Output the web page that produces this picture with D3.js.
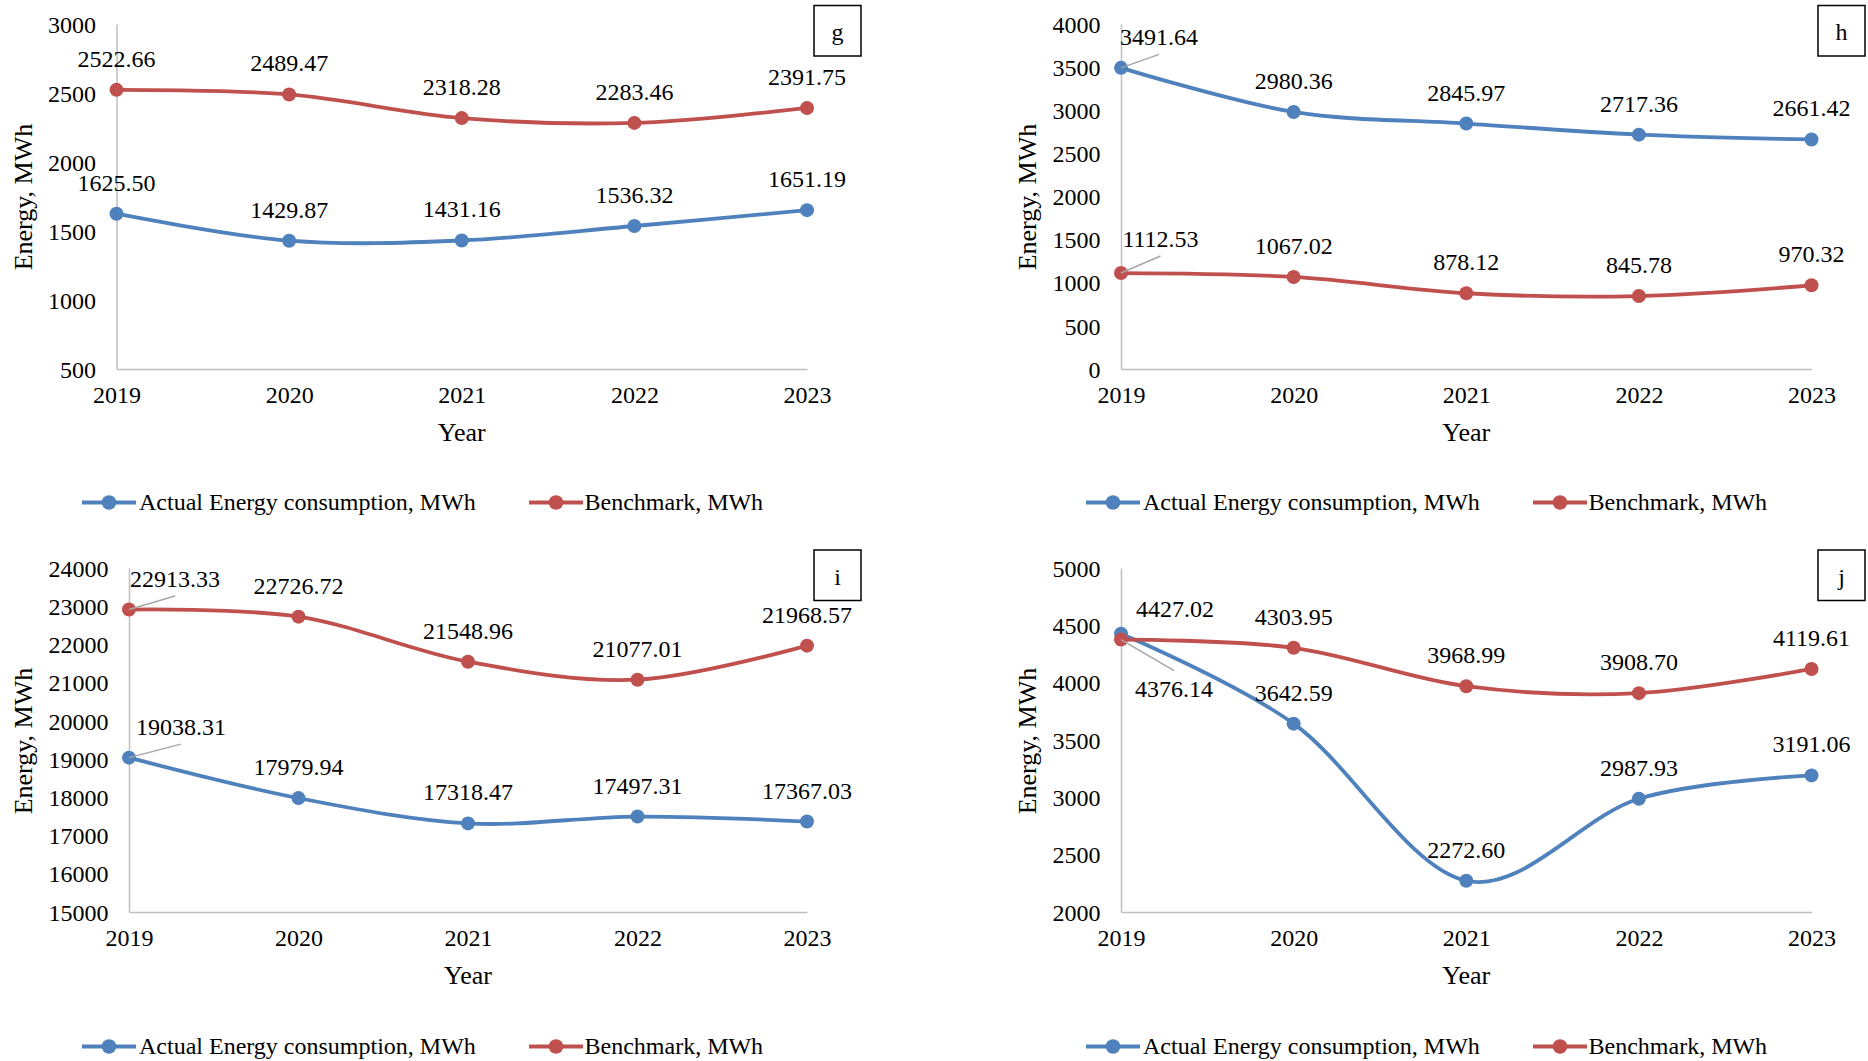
<!DOCTYPE html>
<html>
<head>
<meta charset="utf-8">
<script src="https://cdn.jsdelivr.net/npm/d3@7"></script>
<style>
  body { margin: 0; background: #fff; }
  svg { display: block; font-family: "Liberation Serif", "Times New Roman", serif; }
</style>
</head>
<body>
<div id="chart"></div>
<script>
// ---- data ----
var years = ["2019", "2020", "2021", "2022", "2023"];
var seriesNames = ["Actual Energy consumption, MWh", "Benchmark, MWh"];

var g_actual = [1625.50, 1429.87, 1431.16, 1536.32, 1651.19];
var g_bench  = [2522.66, 2489.47, 2318.28, 2283.46, 2391.75];
var g_ticks  = [500, 1000, 1500, 2000, 2500, 3000];

var h_actual = [3491.64, 2980.36, 2845.97, 2717.36, 2661.42];
var h_bench  = [1112.53, 1067.02, 878.12, 845.78, 970.32];
var h_ticks  = [0, 500, 1000, 1500, 2000, 2500, 3000, 3500, 4000];

var i_actual = [19038.31, 17979.94, 17318.47, 17497.31, 17367.03];
var i_bench  = [22913.33, 22726.72, 21548.96, 21077.01, 21968.57];
var i_ticks  = [15000, 16000, 17000, 18000, 19000, 20000, 21000, 22000, 23000, 24000];

var j_actual = [4427.02, 3642.59, 2272.60, 2987.93, 3191.06];
var j_bench  = [4376.14, 4303.95, 3968.99, 3908.70, 4119.61];
var j_ticks  = [2000, 2500, 3000, 3500, 4000, 4500, 5000];

// ---- layout of the four panels (pixels) ----
var colors = ["#4f81bd", "#c0504d"];
var panels = [
    {tag: "g", series: [g_actual, g_bench], ticks: g_ticks, left: 0, top: 0,
     x0: 116.5, x1: 807, yTop: 24, yBot: 369, box: [814, 5.5],
     moves: []},
    {tag: "h", series: [h_actual, h_bench], ticks: h_ticks, left: 1004, top: 0,
     x0: 1121, x1: 1811.5, yTop: 24, yBot: 369, box: [1818, 5.5],
     moves: [{s: 0, i: 0, dx: 38, dy: 0, leader: true}, {s: 1, i: 0, dx: 39.5, dy: -3.5, leader: true}]},
    {tag: "i", series: [i_actual, i_bench], ticks: i_ticks, left: 0, top: 544,
     x0: 129, x1: 807, yTop: 568, yBot: 912, box: [814, 550],
     moves: [{s: 1, i: 0, dx: 46, dy: 0, leader: true}, {s: 0, i: 0, dx: 52, dy: 0, leader: true}]},
    {tag: "j", series: [j_actual, j_bench], ticks: j_ticks, left: 1004, top: 544,
     x0: 1121, x1: 1811.5, yTop: 568, yBot: 912, box: [1818, 550],
     moves: [{s: 0, i: 0, dx: 54, dy: 6.5, leader: false}, {s: 1, i: 0, dx: 53, dy: 80.5, leader: true}]}
];

var svg = d3.select("#chart")
    .append("svg")
    .attr("width", 1868)
    .attr("height", 1061);

panels.forEach(function (p) {
    var g = svg.append("g");

    var x = d3.scalePoint()
        .domain(years)
        .range([p.x0, p.x1]);

    var y = d3.scaleLinear()
        .domain(d3.extent(p.ticks))
        .range([p.yBot, p.yTop]);

    // axes: light grey lines, no ticks
    var yAxis = g.append("g")
        .attr("transform", "translate(" + p.x0 + ",0)")
        .attr("font-family", null)
        .call(d3.axisLeft(y).tickValues(p.ticks).tickFormat(d3.format("d")).tickSize(0).tickPadding(20.5));
    yAxis.attr("font-family", "Liberation Serif").attr("font-size", 24);
    yAxis.select(".domain").attr("stroke", "#bfbfbf").attr("stroke-width", 1.5);
    yAxis.selectAll("text")
        .attr("fill", "#000")
        .attr("dy", "0.34em");

    var xAxis = g.append("g")
        .attr("transform", "translate(0," + p.yBot + ")")
        .call(d3.axisBottom(x).tickSize(0).tickPadding(0));
    xAxis.attr("font-family", "Liberation Serif").attr("font-size", 24);
    xAxis.select(".domain").attr("stroke", "#bfbfbf").attr("stroke-width", 1.5);
    xAxis.selectAll("text")
        .attr("fill", "#000")
        .attr("y", 34)
        .attr("dy", 0);

    // axis titles
    g.append("text")
        .attr("text-anchor", "middle")
        .attr("x", (p.x0 + p.x1) / 2)
        .attr("y", p.yBot + 72)
        .attr("font-size", 26)
        .text("Year");

    g.append("text")
        .attr("text-anchor", "middle")
        .attr("transform", "translate(" + (p.left + 32) + "," + (p.top + 197) + ") rotate(-90)")
        .attr("font-size", 26)
        .text("Energy, MWh");

    // smoothed lines like the spreadsheet ones
    var line = d3.line()
        .x(function (d, i) { return x(years[i]); })
        .y(function (d) { return y(d); })
        .curve(d3.curveCatmullRom.alpha(0));

    p.series.forEach(function (vals, s) {
        g.append("path")
            .attr("d", line(vals))
            .attr("fill", "none")
            .attr("stroke", colors[s])
            .attr("stroke-width", 3.8)
            .attr("stroke-linejoin", "round")
            .attr("stroke-linecap", "round");

        g.selectAll(".pt" + s)
            .data(vals)
            .enter()
            .append("circle")
            .attr("cx", function (d, i) { return x(years[i]); })
            .attr("cy", function (d) { return y(d); })
            .attr("r", 7)
            .attr("fill", colors[s]);
    });

    // data labels
    p.series.forEach(function (vals, s) {
        vals.forEach(function (v, i) {
            var px = x(years[i]), py = y(v);
            var mv = p.moves.find(function (m) { return m.s === s && m.i === i; });
            var lx = px + (mv ? mv.dx : 0);
            var ly = py - 23 + (mv ? mv.dy : 0);
            if (mv && mv.leader) {
                var ey = (mv.dy > 30) ? ly - 26.5 : ly + 9.5;
                g.append("line")
                    .attr("x1", px).attr("y1", py)
                    .attr("x2", lx).attr("y2", ey)
                    .attr("stroke", "#a6a6a6")
                    .attr("stroke-width", 1.5);
            }
            g.append("text")
                .attr("text-anchor", "middle")
                .attr("x", lx)
                .attr("y", ly)
                .attr("font-size", 24)
                .text(v.toFixed(2));
        });
    });

    // panel tag box
    g.append("rect")
        .attr("x", p.box[0])
        .attr("y", p.box[1])
        .attr("width", 47)
        .attr("height", 50.5)
        .attr("fill", "#fff")
        .attr("stroke", "#000")
        .attr("stroke-width", 1.5);
    g.append("text")
        .attr("text-anchor", "middle")
        .attr("x", p.box[0] + 23.5)
        .attr("y", p.box[1] + 34.5)
        .attr("font-size", 24)
        .text(p.tag);

    // legend
    var legX = [p.left + 82, p.left + 529];
    var legY = p.top + 502.5;
    seriesNames.forEach(function (name, s) {
        g.append("line")
            .attr("x1", legX[s]).attr("y1", legY)
            .attr("x2", legX[s] + 54).attr("y2", legY)
            .attr("stroke", colors[s])
            .attr("stroke-width", 3.8);
        g.append("circle")
            .attr("cx", legX[s] + 27)
            .attr("cy", legY)
            .attr("r", 7.3)
            .attr("fill", colors[s]);
        g.append("text")
            .attr("x", legX[s] + 57 - s * 1.5)
            .attr("y", legY + 7.5)
            .attr("font-size", 24)
            .text(name);
    });
});
</script>
</body>
</html>
